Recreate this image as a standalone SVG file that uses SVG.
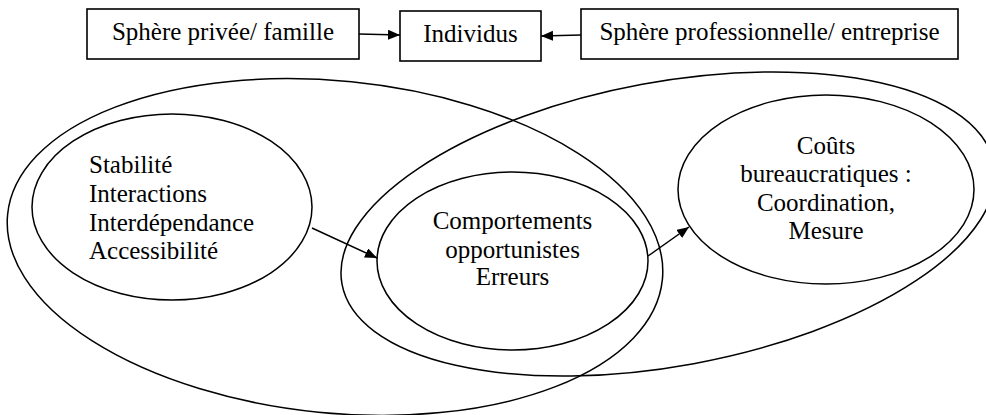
<svg xmlns="http://www.w3.org/2000/svg" width="986" height="415" viewBox="0 0 986 415">
<style>
.box{fill:#fff;stroke:#000;stroke-width:1.6}
.ell{fill:none;stroke:#000;stroke-width:1.5}
.t{font-family:"Liberation Serif","Times New Roman",serif;font-size:25px;fill:#000}
.c{text-anchor:middle}
.ln{fill:none;stroke:#000;stroke-width:1.5}
</style>
<defs>
<marker id="ah" markerUnits="userSpaceOnUse" markerWidth="13" markerHeight="11" refX="12" refY="5" orient="auto">
<path d="M0,0 L12,5 L0,10 z" fill="#000"/>
</marker>
</defs>
<rect width="986" height="415" fill="#fff"/>
<g id="sphere-privee">
<rect class="box" x="87" y="9" width="272" height="50"/>
<text class="t c" x="223" y="40">Sphère privée/ famille</text>
</g>
<g id="individus">
<rect class="box" x="400" y="11" width="141" height="50"/>
<text class="t c" x="470.5" y="42">Individus</text>
</g>
<g id="sphere-pro">
<rect class="box" x="581" y="9" width="377" height="50"/>
<text class="t c" x="769.5" y="40">Sphère professionnelle/ entreprise</text>
</g>
<g id="sphere-gauche">
<ellipse class="ell" cx="335" cy="247" rx="329" ry="166" transform="rotate(5.7 335 247)"/>
</g>
<g id="sphere-droite">
<ellipse class="ell" cx="668" cy="224" rx="331.5" ry="142" transform="rotate(-10.45 668 224)"/>
</g>
<g id="stabilite">
<ellipse class="ell" cx="172" cy="207" rx="140" ry="93"/>
<text class="t" x="89" y="173">Stabilité</text>
<text class="t" x="89" y="202">Interactions</text>
<text class="t" x="89" y="231">Interdépendance</text>
<text class="t" x="89" y="259">Accessibilité</text>
</g>
<g id="comportements">
<ellipse class="ell" cx="512.5" cy="261" rx="135.5" ry="89"/>
<text class="t c" x="512.5" y="229">Comportements</text>
<text class="t c" x="512.5" y="258">opportunistes</text>
<text class="t c" x="512.5" y="285">Erreurs</text>
</g>
<g id="couts">
<ellipse class="ell" cx="826" cy="189.5" rx="148" ry="94.5"/>
<text class="t c" x="826" y="154">Coûts</text>
<text class="t c" x="826" y="182">bureaucratiques :</text>
<text class="t c" x="826" y="211">Coordination,</text>
<text class="t c" x="826" y="239">Mesure</text>
</g>
<g id="connecteurs">
<line class="ln" x1="359" y1="34" x2="400" y2="35" marker-end="url(#ah)"/>
<line class="ln" x1="581" y1="35" x2="541" y2="36" marker-end="url(#ah)"/>
<line class="ln" x1="312" y1="228" x2="377" y2="258" marker-end="url(#ah)"/>
<line class="ln" x1="648" y1="256" x2="689" y2="227" marker-end="url(#ah)"/>
</g>
</svg>
